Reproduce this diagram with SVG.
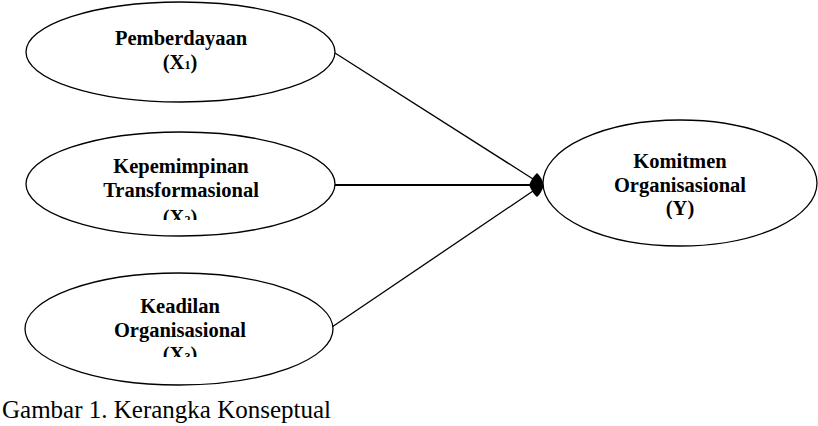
<svg xmlns="http://www.w3.org/2000/svg" width="818" height="426" viewBox="0 0 818 426">
  <style>
    .node { fill: #ffffff; stroke: #000000; stroke-width: 1.3; }
    .lbl { font-family: "Liberation Serif", "Times New Roman", serif; font-weight: bold; font-size: 20.5px; fill: #000000; text-anchor: middle; }
    .sub { font-size: 12px; }
    .edge { stroke: #000000; stroke-width: 1.3; fill: none; }
    .cap { font-family: "Liberation Serif", "Times New Roman", serif; font-size: 25px; fill: #000000; }
  </style>
  <defs>
    <clipPath id="clipX2"><rect x="100" y="120" width="170" height="100"/></clipPath>
    <clipPath id="clipX3"><rect x="100" y="280" width="170" height="77"/></clipPath>
  </defs>
  <rect width="818" height="426" fill="#ffffff"/>

  <g id="connectors">
    <line class="edge" x1="335" y1="53" x2="533" y2="179"/>
    <line class="edge" x1="335" y1="185" x2="533" y2="185" style="stroke-width:2.2"/>
    <line class="edge" x1="332" y1="327" x2="533" y2="191"/>
    <path d="M529 185 Q533 176 537 173 Q541 176 544 185 Q541 194 537 197 Q533 194 529 185 Z" fill="#000000"/>
  </g>

  <g id="node-x1">
    <ellipse class="node" cx="180.5" cy="52" rx="154.5" ry="50"/>
    <text class="lbl" x="181" y="45">Pemberdayaan</text>
    <text class="lbl" x="180" y="69">(X<tspan class="sub">1</tspan>)</text>
  </g>

  <g id="node-x2">
    <ellipse class="node" cx="180.5" cy="184" rx="154.5" ry="52"/>
    <text class="lbl" x="181" y="173">Kepemimpinan</text>
    <text class="lbl" x="181" y="197">Transformasional</text>
    <text class="lbl" x="180" y="224" clip-path="url(#clipX2)">(X<tspan class="sub">2</tspan>)</text>
  </g>

  <g id="node-x3">
    <ellipse class="node" cx="179" cy="329" rx="154" ry="56"/>
    <text class="lbl" x="180" y="313">Keadilan</text>
    <text class="lbl" x="180" y="337">Organisasional</text>
    <text class="lbl" x="180" y="361" clip-path="url(#clipX3)">(X<tspan class="sub">3</tspan>)</text>
  </g>

  <g id="node-y">
    <ellipse class="node" cx="680" cy="183" rx="137" ry="63"/>
    <text class="lbl" x="680" y="168">Komitmen</text>
    <text class="lbl" x="680" y="192">Organisasional</text>
    <text class="lbl" x="680" y="215">(Y)</text>
  </g>

  <text class="cap" x="2" y="418">Gambar 1. Kerangka Konseptual</text>
</svg>
